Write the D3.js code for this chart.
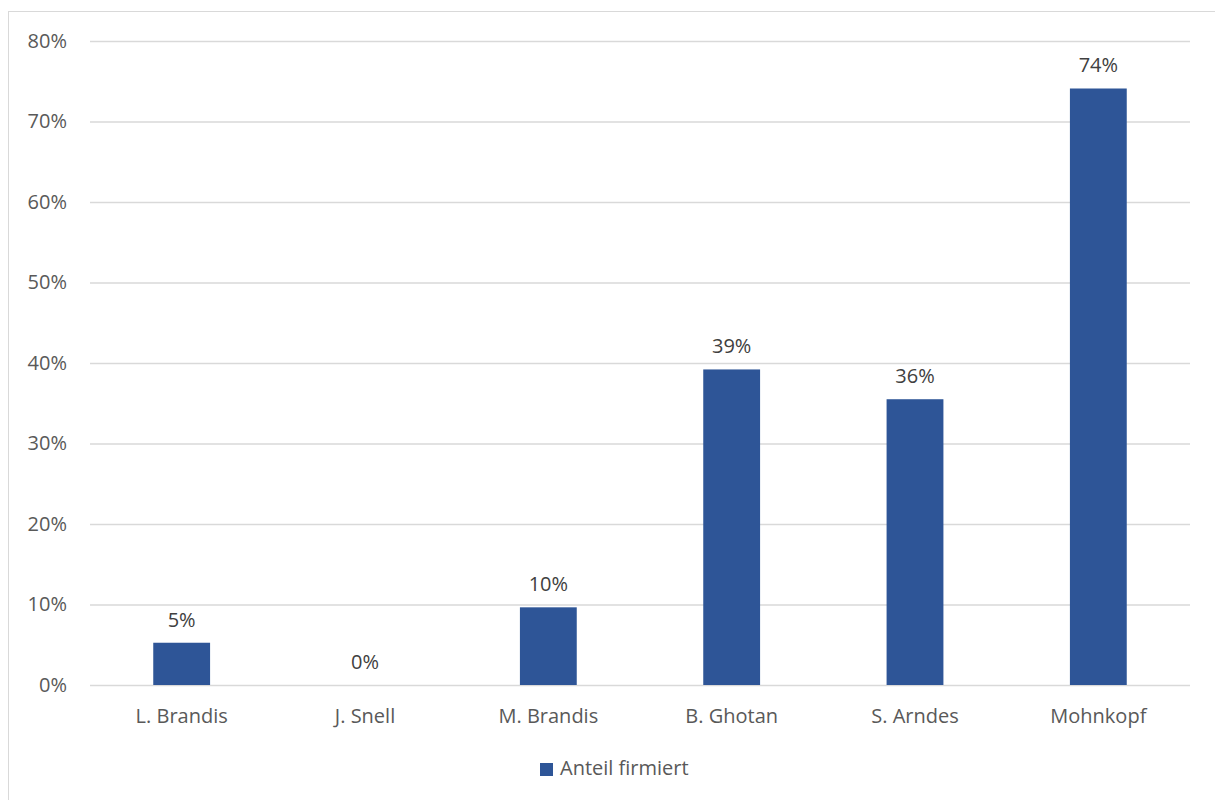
<!DOCTYPE html>
<html><head><meta charset="utf-8">
<script src="https://cdn.jsdelivr.net/npm/d3@7"></script>
<style>body{margin:0;background:#fff;} svg{display:block;} text{font-family:"Open Sans","Liberation Sans",sans-serif;}</style>
</head><body>
<svg id="c" width="1215" height="800"></svg>
<script>
const categories = ["L. Brandis","J. Snell","M. Brandis","B. Ghotan","S. Arndes","Mohnkopf"];
const values = [0.0525, 0, 0.0965, 0.392, 0.355, 0.741];
const valueLabels = ["5%","0%","10%","39%","36%","74%"];
const yTicks = [0,0.1,0.2,0.3,0.4,0.5,0.6,0.7,0.8];
const seriesName = "Anteil firmiert";

(function(){
const svg = d3.select("#c");
const color = "#2e5597", grid = "#d9d9d9", txt = "#595959";
svg.append("rect").attr("x",8.5).attr("y",11.5).attr("width",1220).attr("height",800).attr("fill","none").attr("stroke","#d9d9d9");

const mLeft = 90, mRight = 1190, mTop = 41, mBottom = 685;
const x = d3.scaleBand().domain(categories).range([mLeft,mRight]).padding(0);
const y = d3.scaleLinear().domain([0,0.8]).range([mBottom,mTop]);

const yAxis = d3.axisLeft(y).tickValues(yTicks).tickFormat(d3.format(".0%")).tickSize(-(mRight-mLeft)).tickPadding(23);
const gy = svg.append("g").attr("transform",`translate(${mLeft},0)`).call(yAxis);
gy.select(".domain").remove();
gy.selectAll("line").attr("stroke",grid).attr("stroke-width",1.3);
gy.selectAll("text").attr("fill",txt).attr("font-size",20);

const xAxis = d3.axisBottom(x).tickSize(0).tickPadding(24);
const gx = svg.append("g").attr("transform",`translate(0,${mBottom})`).call(xAxis);
gx.select(".domain").remove();
gx.selectAll("text").attr("fill",txt).attr("font-size",20);

const bw = x.bandwidth()*0.31;
svg.selectAll("rect.bar").data(values).join("rect").attr("class","bar")
  .attr("x",(d,i)=>x(categories[i])+x.bandwidth()/2-bw/2)
  .attr("y",d=>y(d)).attr("width",bw).attr("height",d=>mBottom-y(d)).attr("fill",color);

svg.selectAll("text.lbl").data(values).join("text").attr("class","lbl")
  .attr("x",(d,i)=>x(categories[i])+x.bandwidth()/2)
  .attr("y",d=>y(d)-16).attr("text-anchor","middle")
  .attr("fill","#404040").attr("font-size",20).text((d,i)=>valueLabels[i]);

const lg = svg.append("g");
lg.append("rect").attr("x",540).attr("y",763).attr("width",13).attr("height",13).attr("fill",color);
lg.append("text").attr("x",560).attr("y",775).attr("fill",txt).attr("font-size",20).text(seriesName);
})();
</script>
</body></html>
